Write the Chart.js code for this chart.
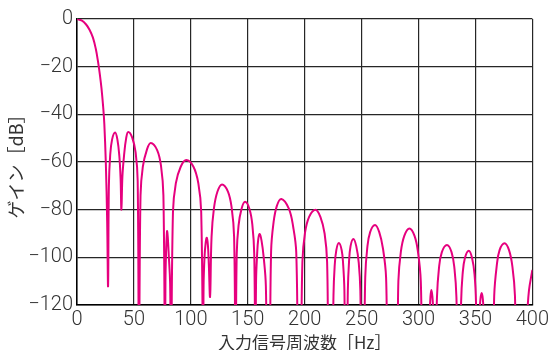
<!DOCTYPE html>
<html>
<head>
<meta charset="utf-8">
<script src="https://cdn.jsdelivr.net/npm/chart.js@4"></script>
<style>
  html, body { margin: 0; padding: 0; background: #fff; }
  #wrap { width: 552px; height: 350px; }
</style>
</head>
<body>
<div id="wrap"><canvas id="gainChart" width="552" height="350"></canvas></div>
<script>
// frequency response (Hz / dB); values below -120 are clipped nulls
const freqHz = [
    0, 4, 8, 11, 14, 16.5, 18.5, 20, 21.5, 23, 24, 25.3, 26.5, 27.3,
    28.0, 29.1, 30.8, 33.5, 35.5, 37.2, 38.3, 39.0,
    39.9, 41.3, 43.2, 45.0, 48.5, 51.5, 53.3, 54.4,
    55.8, 57.8, 61.3, 64.8, 70.4, 73.9, 75.9, 77.3,
    77.7, 78.3, 78.8, 79.2, 79.8, 80.6, 81.8, 82.6,
    84.3, 86.8, 91.1, 96.0, 102.3, 106.6, 109.1, 110.8,
    111.2, 112.0, 113.0, 114.0, 115.0, 115.8, 116.9,
    118.2, 120.3, 123.4, 127.4, 132.6, 135.9, 138.0, 139.3,
    140.3, 141.9, 144.5, 147.6, 151.5, 154.1, 155.7, 156.7,
    157.3, 158.2, 159.2, 160.5, 162.1, 164.0, 165.9, 166.8,
    168.0,
    169.2, 170.5, 172.5, 175.5, 179.5, 186.0, 190.0, 192.6, 194.3,
    195.5,
    196.6, 198.0, 200.2, 203.9, 209.5, 213.8, 217.5, 219.7, 221.0,
    222.8,
    224.5, 225.3, 226.3, 227.8, 230.0, 232.5, 233.8, 234.9, 235.5,
    236.3,
    237.2, 237.9, 238.9, 240.3, 242.8, 245.3, 247.5, 248.9, 249.7,
    250.9,
    252.0, 253.2, 254.9, 257.5, 261.8, 265.5, 268.8, 271.5, 273.0,
    277.0,
    281.0, 282.3, 284.4, 287.5, 292.0, 296.5, 299.6, 302.0, 303.5,
    306.5,
    309.2, 309.8, 310.5, 311.3, 312.2, 313.2, 314.7,
    316.2, 317.9, 320.5, 325.0, 329.0, 331.6, 333.3, 334.5,
    335.5,
    336.5, 337.4, 338.7, 340.8, 344.2, 347.0, 349.2, 350.5, 351.4,
    352.2,
    353.0, 353.6, 354.4, 355.5, 356.5, 357.3, 358.3,
    362.0,
    365.5, 366.5, 368.6, 371.2, 375.6, 379.5, 382.5, 384.7, 386.0,
    390.3,
    394.5, 395.5, 397.0, 400.0
];
const gainDb = [
    0, -0.6, -2.3, -4.5, -7.8, -12.5, -18, -23, -29, -37, -44, -60, -85, -112,
    -70, -57.6, -50.6, -47.6, -50.6, -57.6, -67, -80,
    -66, -57.4, -50, -47.4, -49.8, -56, -68, -150,
    -74, -62, -55, -52, -55, -62, -74, -150,
    -110, -97, -91, -89, -92, -99, -111, -150,
    -81, -69, -62, -59.2, -62, -69, -81, -150,
    -112, -100, -94, -91.8, -95, -103, -116.5,
    -91.4, -79.4, -72.4, -69.4, -72.4, -79.4, -91.4, -150,
    -98.7, -86.7, -79.7, -76.7, -79.7, -86.7, -98.7, -150,
    -110, -99, -92.5, -90.2, -93, -100, -112, -150,
    -128,
    -150, -97.5, -86, -78.5, -75.5, -79.5, -87.5, -98, -150,
    -128,
    -150, -102, -90, -83, -80, -83, -90, -102, -150,
    -130,
    -150, -116, -104, -97, -94, -97, -103, -114, -150,
    -128,
    -150, -114, -102.3, -95.3, -92.3, -95.3, -102.3, -114, -150,
    -128,
    -150, -108.4, -96.4, -89.4, -86.4, -89.4, -96.4, -108.4, -150,
    -135,
    -150, -110, -98, -91, -87.9, -91, -98, -110, -150,
    -135,
    -150, -125, -116.5, -113.7, -116.5, -125, -150,
    -116.8, -104.8, -97.8, -94.8, -97.8, -104.8, -116.8, -150,
    -128,
    -150, -119, -107.2, -100.2, -97.2, -100.2, -107.2, -119, -150,
    -130,
    -150, -124, -117.5, -115, -117.5, -124, -150,
    -135,
    -150, -116, -104, -97, -94.1, -97, -104, -116, -150,
    -135,
    -150, -125, -114, -105.3
];
const xTicks = [0, 50, 100, 150, 200, 250, 300, 350, 400];
const yTicks = [0, -20, -40, -60, -80, -100, -120];
const xTitle = '入力信号周波数［Hz］';
const yTitle = 'ゲイン［dB］';

const tickFont = { family: "Roboto, 'Liberation Sans', sans-serif", size: 20, weight: 300 };
const titleFamily = "'Noto Sans CJK JP', sans-serif";
const textColor = '#333';
const gridColor = '#262626';

const points = freqHz.map((f, i) => ({ x: f, y: gainDb[i] }));

new Chart(document.getElementById('gainChart'), {
    type: 'line',
    data: {
        datasets: [{
            data: points,
            borderColor: '#e6007e',
            borderWidth: 2,
            pointRadius: 0,
            fill: false,
            tension: 0.4
        }]
    },
    options: {
        responsive: false,
        animation: false,
        devicePixelRatio: 1,
        layout: { padding: { top: 19, right: 16, left: 0, bottom: 0 } },
        plugins: {
            legend: { display: false },
            tooltip: { enabled: false }
        },
        scales: {
            x: {
                type: 'linear',
                min: 0,
                max: 400,
                afterBuildTicks: (scale) => { scale.ticks = xTicks.map(v => ({ value: v })); },
                afterFit: (scale) => { scale.height = 45; },
                grid: { color: gridColor, lineWidth: 1.2, drawTicks: false },
                border: { color: '#000', width: 1.5 },
                ticks: {
                    color: textColor,
                    padding: 3,
                    maxRotation: 0,
                    font: tickFont,
                    callback: (v) => String(v)
                },
                title: {
                    display: true,
                    text: xTitle,
                    color: textColor,
                    font: { family: titleFamily, size: 17, lineHeight: 1 },
                    padding: { top: 0, bottom: -1 }
                }
            },
            y: {
                type: 'linear',
                min: -120,
                max: 0,
                afterBuildTicks: (scale) => { scale.ticks = yTicks.map(v => ({ value: v })); },
                afterFit: (scale) => { scale.width = 77; },
                grid: { color: gridColor, lineWidth: 1.2, drawTicks: false },
                border: { color: '#000', width: 1.5 },
                ticks: {
                    color: textColor,
                    padding: 4,
                    font: tickFont,
                    callback: (v) => v < 0 ? '−' + Math.abs(v) : String(v)
                },
                title: {
                    display: true,
                    text: yTitle,
                    color: textColor,
                    font: { family: titleFamily, size: 18, lineHeight: 1 },
                    padding: { top: 7, bottom: 0 }
                }
            }
        }
    }
});
</script>
</body>
</html>
